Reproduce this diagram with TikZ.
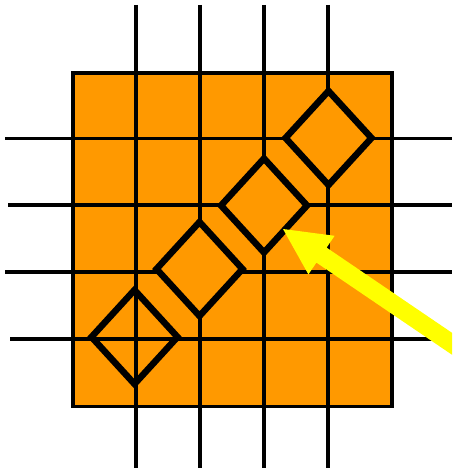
\documentclass[tikz,border=0pt]{standalone}
\definecolor{boxorange}{RGB}{255,153,0}
\definecolor{arrowyellow}{RGB}{255,255,0}
\tikzset{
  gridline/.style={draw=black,line width=3.6pt},
  frame/.style={draw=black,fill=boxorange,line width=3.6pt},
  gem/.style={draw=black,line width=6.5pt,line join=miter},
  pointer/.style={fill=arrowyellow,draw=none},
}
\begin{document}
\begin{tikzpicture}[x=1pt,y=-1pt]
\useasboundingbox (0,0) rectangle (452,470);
% orange square
\draw[frame] (73,73) rectangle (392,406.5);
% vertical grid lines
\foreach \gx in {136,200,264,328}
  \draw[gridline] (\gx,5) -- (\gx,468);
% horizontal grid lines
\draw[gridline] (5,138.5) -- (452,138.5);
\draw[gridline] (8,205) -- (452,205);
\draw[gridline] (5,272) -- (452,272);
\draw[gridline] (10,339) -- (452,339);
% diamonds
\coordinate (d1) at (134.5,337);
\coordinate (d2) at (199.5,269);
\coordinate (d3) at (264,205.5);
\coordinate (d4) at (328.5,138);
\draw[gem] ([xshift=-43pt]d1) -- ([yshift=-47pt]d1) -- ([xshift=43pt]d1) -- ([yshift=47pt]d1) -- cycle;
\foreach \d in {d2,d3,d4}
  \draw[gem,fill=boxorange] ([xshift=-43pt]\d) -- ([yshift=-47pt]\d) -- ([xshift=43pt]\d) -- ([yshift=47pt]\d) -- cycle;
% yellow arrow
\begin{scope}
\clip (0,0) rectangle (452,470);
\fill[pointer] (283,229) -- (334.6,235.8) -- (326.6,247.6) -- (492.0,360.0)
  -- (481.8,375.0) -- (316.4,262.6) -- (308.4,274.4) -- cycle;
\end{scope}
\end{tikzpicture}
\end{document}
